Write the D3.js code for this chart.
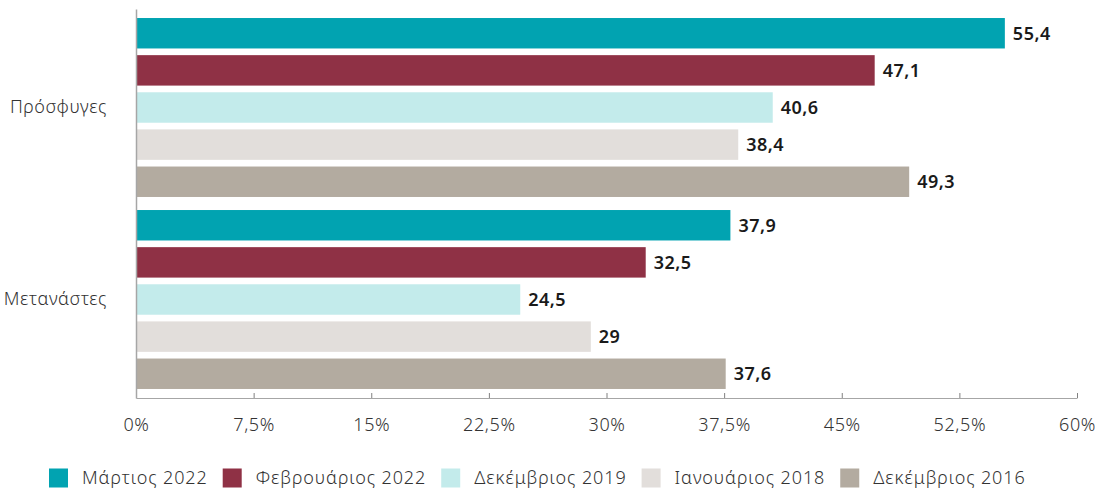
<!DOCTYPE html>
<html>
<head>
<meta charset="utf-8">
<script src="https://cdn.jsdelivr.net/npm/d3@7"></script>
<style>
  body { margin: 0; background: #fff; }
  svg { display: block; font-family: "Noto Sans", sans-serif; }
</style>
</head>
<body>
<div id="chart"></div>
<script>
const categories = ["Πρόσφυγες", "Μετανάστες"]
const seriesNames = ["Μάρτιος 2022", "Φεβρουάριος 2022", "Δεκέμβριος 2019", "Ιανουάριος 2018", "Δεκέμβριος 2016"]
const refugees = [55.4, 47.1, 40.6, 38.4, 49.3]
const migrants = [37.9, 32.5, 24.5, 29, 37.6]
const xTicks = [0, 7.5, 15, 22.5, 30, 37.5, 45, 52.5, 60]

const colors = ["#01a3b1", "#8f3145", "#c3ebeb", "#e2dedb", "#b3aba0"]

const width = 1098
const height = 490
const left = 136
const right = 1077

const fmt = v => String(v).replace(".", ",")

const rows = categories.map((c, i) => ({
    category: c,
    values: (i === 0 ? refugees : migrants).map((v, j) => ({ name: seriesNames[j], value: v }))
}))

const svg = d3.select("#chart")
    .append("svg")
    .attr("width", width)
    .attr("height", height)

const x = d3.scaleLinear().domain([0, 60]).range([left, right])

const y0 = d3.scaleBand()
    .domain(categories)
    .range([9, 398])
    .paddingInner(0.068)
    .paddingOuter(0.047)

const y1 = d3.scaleBand()
    .domain(seriesNames)
    .range([0, y0.bandwidth()])
    .paddingInner(0.18)

const color = d3.scaleOrdinal().domain(seriesNames).range(colors)

// bars
const group = svg.selectAll(".grp")
    .data(rows)
    .enter()
    .append("g")
    .attr("transform", d => `translate(0, ${y0(d.category)})`)

group.selectAll("rect")
    .data(d => d.values)
    .enter()
    .append("rect")
    .attr("x", x(0))
    .attr("y", d => y1(d.name))
    .attr("width", d => x(d.value) - x(0))
    .attr("height", y1.bandwidth())
    .style("fill", d => color(d.name))

group.selectAll("text")
    .data(d => d.values)
    .enter()
    .append("text")
    .attr("x", d => x(d.value) + 8)
    .attr("y", d => y1(d.name) + y1.bandwidth() / 2)
    .attr("dy", "0.35em")
    .style("font-size", "18px")
    .style("font-weight", 600)
    .style("letter-spacing", "0.5px")
    .style("fill", "#1a1a1a")
    .text(d => fmt(d.value))

// x axis
const xAxis = svg.append("g")
    .attr("transform", "translate(0, 398)")
    .call(d3.axisBottom(x).tickValues(xTicks).tickSizeInner(-5).tickSizeOuter(0).tickPadding(20).tickFormat(d => fmt(d) + "%"))

xAxis.select(".domain").attr("stroke", "#a6a6a6")
xAxis.selectAll(".tick line").attr("stroke", "#808080")
xAxis.selectAll("text")
    .style("font-size", "18px")
    .style("letter-spacing", "0.6px")
    .style("fill", "#333")
    .style("font-family", "Noto Sans, sans-serif")
    .style("font-weight", 300)

// y axis
const yAxis = svg.append("g")
    .attr("transform", `translate(${left}, 0)`)
    .call(d3.axisLeft(y0).tickSize(0).tickPadding(29))

yAxis.select(".domain").attr("stroke", "#a6a6a6").attr("stroke-width", 1.5)
yAxis.selectAll("text")
    .style("font-size", "18px")
    .style("letter-spacing", "0.6px")
    .style("fill", "#333")
    .style("font-family", "Noto Sans, sans-serif")
    .style("font-weight", 300)

// legend
const legend = svg.append("g").attr("transform", "translate(49, 478)")
let lx = 0
seriesNames.forEach(name => {
    const item = legend.append("g").attr("transform", `translate(${lx}, 0)`)
    item.append("rect")
        .attr("x", 0)
        .attr("y", -9.5)
        .attr("width", 19)
        .attr("height", 19)
        .style("fill", color(name))
    const t = item.append("text")
        .attr("x", 33)
        .attr("dy", "0.35em")
        .style("font-size", "18px")
        .style("letter-spacing", "0.9px")
        .style("font-weight", 300)
        .style("fill", "#333")
        .text(name)
    lx += 33 + t.node().getComputedTextLength() + 15
})
</script>
</body>
</html>
